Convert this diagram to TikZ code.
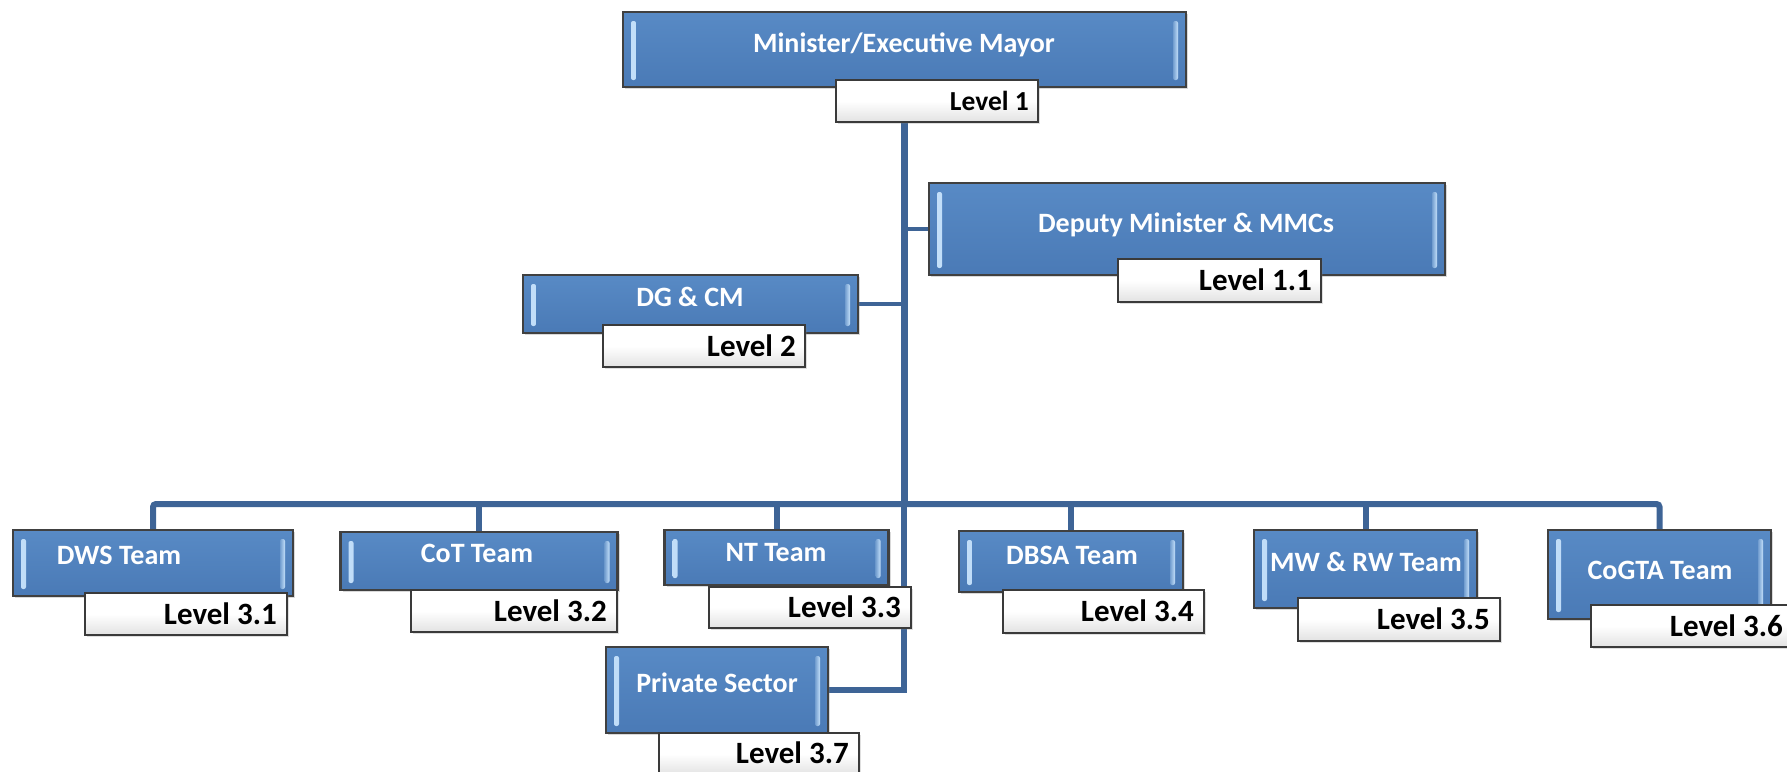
\documentclass[tikz,border=0pt]{standalone}
\usepackage{fontspec}
\setmainfont{Carlito}
\usetikzlibrary{shadows}
\definecolor{boxblue}{RGB}{79,129,189}
\definecolor{boxtop}{RGB}{88,138,197}
\definecolor{boxbot}{RGB}{74,122,182}
\definecolor{boxedge}{RGB}{64,64,64}
\definecolor{bevelcol}{RGB}{196,224,250}
\definecolor{linecol}{RGB}{62,100,150}
\definecolor{lvledge}{RGB}{58,58,58}
\definecolor{lvlbot}{RGB}{226,226,226}
\tikzset{
  bluebox/.style={draw=boxedge, line width=2.5pt, top color=boxtop, bottom color=boxbot,
    inner sep=0pt, outer sep=0pt,
    drop shadow={shadow xshift=2pt, shadow yshift=-2pt, opacity=.3},
    path picture={
      \shade[left color=bevelcol, right color=boxblue!70!bevelcol, rounded corners=2pt]
        ([xshift=8pt,yshift=-9pt]path picture bounding box.north west) rectangle
        ([xshift=13pt,yshift=7pt]path picture bounding box.south west);
      \shade[right color=bevelcol, left color=boxblue!70!bevelcol, rounded corners=2pt]
        ([xshift=-8pt,yshift=-9pt]path picture bounding box.north east) rectangle
        ([xshift=-13pt,yshift=7pt]path picture bounding box.south east);
    }},
  lvlbox/.style={draw=lvledge, line width=2pt, top color=white, bottom color=lvlbot,
    middle color=white, inner sep=0pt, outer sep=0pt,
    drop shadow={shadow xshift=1.5pt, shadow yshift=-1.5pt, opacity=.25}},
  btext/.style={text=white, font=\fontsize{28pt}{30pt}\selectfont\bfseries,
    inner sep=0pt, text height=18pt, text depth=0pt},
  ltext/.style={text=black, font=\fontsize{31pt}{33pt}\selectfont\bfseries,
    inner sep=0pt, text height=20pt, text depth=0pt, anchor=east},
  spine/.style={draw=linecol, line width=7pt},
  lowspine/.style={draw=linecol, line width=6pt, line join=miter},
  busline/.style={draw=linecol, line width=6pt, rounded corners=3pt},
  dropline/.style={draw=linecol, line width=6pt},
  sideline/.style={draw=linecol, line width=4.5pt},
  place/.style={inner sep=0pt, outer sep=0pt},
}
\begin{document}
\begin{tikzpicture}[x=1pt,y=-1pt]
\useasboundingbox (0,0) rectangle (1787,771);
\clip (0,0) rectangle (1787,771);

\path
  (904.5,49.5) coordinate (c-top)
  (904,0) coordinate (spx)
  (904,504) coordinate (bus);

% ---- placeholders for geometry (invisible) ----
\path
  (937,101) node[place, minimum width=202pt, minimum height=42pt] (l1p) {}
  (1187,229) node[place, minimum width=516pt, minimum height=92pt] (depp) {}
  (690.5,304) node[place, minimum width=335pt, minimum height=58pt] (dgp) {}
  (153,563) node[place, minimum width=280pt, minimum height=66pt] (dwsp) {}
  (479,561) node[place, minimum width=277pt, minimum height=58pt] (cotp) {}
  (776.5,557.5) node[place, minimum width=224pt, minimum height=55pt] (ntp) {}
  (1071,561.5) node[place, minimum width=224pt, minimum height=61pt] (dbsap) {}
  (1365.5,569) node[place, minimum width=223pt, minimum height=78pt] (mwp) {}
  (1659.5,574.5) node[place, minimum width=223pt, minimum height=89pt] (cogp) {}
  (717,690) node[place, minimum width=222pt, minimum height=86pt] (pvp) {};

% ---- connectors (drawn first) ----
\draw[spine] (spx |- l1p.south) -- (bus);
\draw[lowspine] (bus) -- (spx |- pvp.east) -- (pvp.east);
\draw[sideline] (spx |- depp.west) -- (depp.west);
\draw[sideline] (dgp.east) -- (spx |- dgp.east);
\draw[busline] (dwsp.north) -- (dwsp.north |- bus) -- (cogp.north |- bus) -- (cogp.north);
\draw[dropline] (bus -| cotp.north) -- (cotp.north);
\draw[dropline] (bus -| ntp.north) -- (ntp.north);
\draw[dropline] (bus -| dbsap.north) -- (dbsap.north);
\draw[dropline] (bus -| mwp.north) -- (mwp.north);

% ---- blue boxes ----
\node[bluebox, minimum width=563pt, minimum height=75pt] (top) at (c-top) {};
\node[bluebox, minimum width=516pt, minimum height=92pt] (dep) at (depp) {};
\node[bluebox, minimum width=335pt, minimum height=58pt] (dg) at (dgp) {};
\node[bluebox, minimum width=280pt, minimum height=66pt] (dws) at (dwsp) {};
\node[bluebox, minimum width=277pt, minimum height=58pt] (cot) at (cotp) {};
\node[bluebox, minimum width=224pt, minimum height=55pt] (nt) at (ntp) {};
\node[bluebox, minimum width=224pt, minimum height=61pt] (dbsa) at (dbsap) {};
\node[bluebox, minimum width=223pt, minimum height=78pt] (mw) at (mwp) {};
\node[bluebox, minimum width=223pt, minimum height=89pt] (cog) at (cogp) {};
\node[bluebox, minimum width=222pt, minimum height=86pt] (pv) at (pvp) {};

% ---- level boxes ----
\node[lvlbox, minimum width=202pt, minimum height=42pt] (l1) at (l1p) {};
\node[lvlbox, minimum width=203pt, minimum height=43pt] (l11) at (1219.5,280.5) {};
\node[lvlbox, minimum width=202pt, minimum height=42pt] (l2) at (704,346) {};
\node[lvlbox, minimum width=202pt, minimum height=42pt] (l31) at (186,614) {};
\node[lvlbox, minimum width=206pt, minimum height=42pt] (l32) at (514,611) {};
\node[lvlbox, minimum width=202pt, minimum height=41pt] (l33) at (810,607.5) {};
\node[lvlbox, minimum width=201pt, minimum height=43pt] (l34) at (1103.5,611.5) {};
\node[lvlbox, minimum width=202pt, minimum height=43pt] (l35) at (1399,619.5) {};
\node[lvlbox, minimum width=204pt, minimum height=42pt] (l36) at (1693,626) {};
\node[lvlbox, minimum width=200pt, minimum height=42pt] (l37) at (759,754) {};

% ---- texts ----
\node[btext] (t-top) at (904,43) {Minister/Executive Mayor};
\node[btext] (t-dep) at (1186,223) {Deputy Minister \& MMCs};
\node[btext] (t-dg) at (690,297) {DG \& CM};
\node[btext] (t-dws) at (119,555) {DWS Team};
\node[btext] (t-cot) at (477,553) {CoT Team};
\node[btext] (t-nt) at (776,552) {NT Team};
\node[btext] (t-dbsa) at (1072,555) {DBSA Team};
\node[btext] (t-mw) at (1366,562) {MW \& RW Team};
\node[btext] (t-cog) at (1660,570) {CoGTA Team};
\node[btext] (t-pv) at (717,683) {Private Sector};

\node[ltext, font=\fontsize{27.5pt}{30pt}\selectfont\bfseries, text height=18pt] (tl1) at ([xshift=-9pt]l1.east) {Level 1};
\node[ltext] (tl11) at ([xshift=-9pt]l11.east) {Level 1.1};
\node[ltext] (tl2) at ([xshift=-9pt]l2.east) {Level 2};
\node[ltext] (tl31) at ([xshift=-10pt]l31.east) {Level 3.1};
\node[ltext] (tl32) at ([xshift=-10pt]l32.east) {Level 3.2};
\node[ltext] (tl33) at ([xshift=-10pt]l33.east) {Level 3.3};
\node[ltext] (tl34) at ([xshift=-10pt]l34.east) {Level 3.4};
\node[ltext] (tl35) at ([xshift=-10pt]l35.east) {Level 3.5};
\node[ltext] (tl36) at ([xshift=-12pt]l36.east) {Level 3.6};
\node[ltext] (tl37) at ([xshift=-10pt,yshift=1pt]l37.east) {Level 3.7};
\end{tikzpicture}
\end{document}
